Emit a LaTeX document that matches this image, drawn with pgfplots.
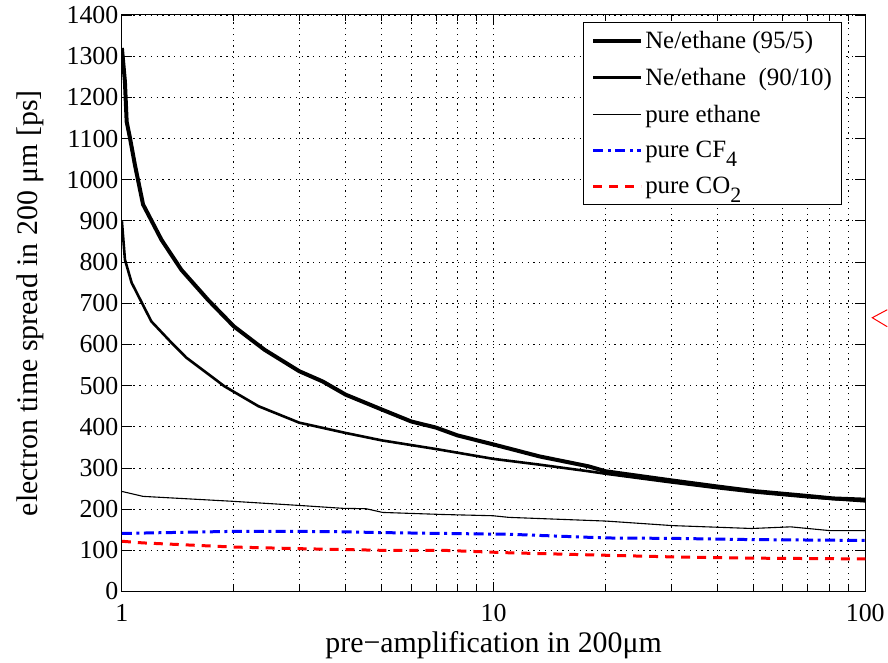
\documentclass[border=0pt]{standalone}
\usepackage{pgfplots}
\pgfplotsset{compat=1.18}
\usepackage{fontspec}
\setmainfont{Liberation Serif}

\newcommand{\lsub}[1]{\raisebox{-9bp}{\fontsize{22}{22}\selectfont #1}}

\begin{document}
\begin{tikzpicture}[x=1bp,y=1bp]
\begin{axis}[
  at={(0,0)}, anchor=south west,
  scale only axis, width=744bp, height=577bp,
  xmode=log, xmin=1, xmax=100,
  ymin=0, ymax=1400, ytick={0,100,...,1400},
  xtick={1,10,100}, xticklabels={1,10,100},
  grid=both,
  major grid style={black, line width=0.8bp, dash pattern=on 1.3bp off 4.5bp},
  minor grid style={black, line width=0.8bp, dash pattern=on 1.3bp off 4.5bp},
  tick align=inside,
  major tick length=10bp, minor tick length=6bp,
  every tick/.style={black, line width=0.8bp},
  axis line style={line width=1bp},
  /pgf/number format/assume math mode=true,
  /pgf/number format/1000 sep={},
  ticklabel style={font=\fontsize{26}{26}\selectfont},
  xticklabel style={anchor=base, yshift=-30bp},
  xlabel={pre−amplification in 200μm},
  ylabel={electron time spread in 200 μm [ps]},
  label style={font=\fontsize{30}{30}\selectfont},
  xlabel style={at={(rel axis cs:0.5,-0.1057)}, anchor=base},
  ylabel style={at={(rel axis cs:-0.1237,0.5)}, anchor=center},
  legend cell align=left,
  legend style={at={(0.969,0.988)}, anchor=north east, font=\fontsize{25}{25}\selectfont,
    draw=black, line width=0.8bp, inner xsep=8bp, inner ysep=7bp, row sep=14bp},
  legend image code/.code={\draw[#1] (0bp,0bp) -- (48bp,0bp);},
]
\addplot[black, line width=4bp] coordinates {
(1.00,1320) (1.019,1238) (1.030,1141) (1.051,1102) (1.084,1036) (1.14,940)
(1.278,854) (1.446,781) (1.706,708) (2.0,644) (2.42,587) (3.0,535) (3.47,510)
(4.0,478) (5.0,442) (6.0,413) (7.0,398) (8.0,379) (10,357) (13.3,328) (18,304)
(20,292) (30,270) (40,255) (50,244) (70,232) (82,226) (100,223)};
\addlegendentry{Ne/ethane (95/5)}
\addplot[black, line width=2.6bp] coordinates {
(1.00,899) (1.019,806) (1.062,750) (1.20,656) (1.36,604) (1.49,568) (1.89,498)
(2.33,450) (3.0,410) (4.0,385) (5.0,367) (7.0,346) (10,322) (13.3,308) (18,292)
(20,286) (30,265) (40,251) (50,241) (70,229) (100,219)};
\addlegendentry{Ne/ethane \ (90/10)}
\addplot[black, line width=1.1bp] coordinates {
(1.00,243) (1.14,231) (1.99,219) (3.0,209) (3.93,202) (4.54,201) (5.03,192)
(7.3,187) (9.95,184) (11,180) (20.1,171) (30.3,160) (49.5,153) (63,157)
(80,148) (100,148)};
\addlegendentry{pure ethane}
\addplot[blue, line width=3bp, dash pattern=on 10bp off 4.5bp on 3bp off 4.5bp] coordinates {
(1.00,141) (1.99,146) (3.0,146) (3.93,145) (5.03,143) (7.3,141) (11,139)
(20.1,130) (30.3,129) (49.5,126) (100,124)};
\addlegendentry{pure CF\lsub{4}}
\addplot[red, line width=3bp, dash pattern=on 9bp off 7bp] coordinates {
(1.00,122) (1.14,118) (1.99,108) (3.0,104) (5.03,100) (7.3,100) (11,94)
(20.1,88) (30.3,84) (49.5,81) (100,79)};
\addlegendentry{pure CO\lsub{2}}
\end{axis}
\draw[red, line width=1bp] (766bp,282bp) -- (751bp,274bp) -- (766bp,265bp);
\path (-122bp,-70bp) rectangle (766bp,592bp);
\end{tikzpicture}
\end{document}
